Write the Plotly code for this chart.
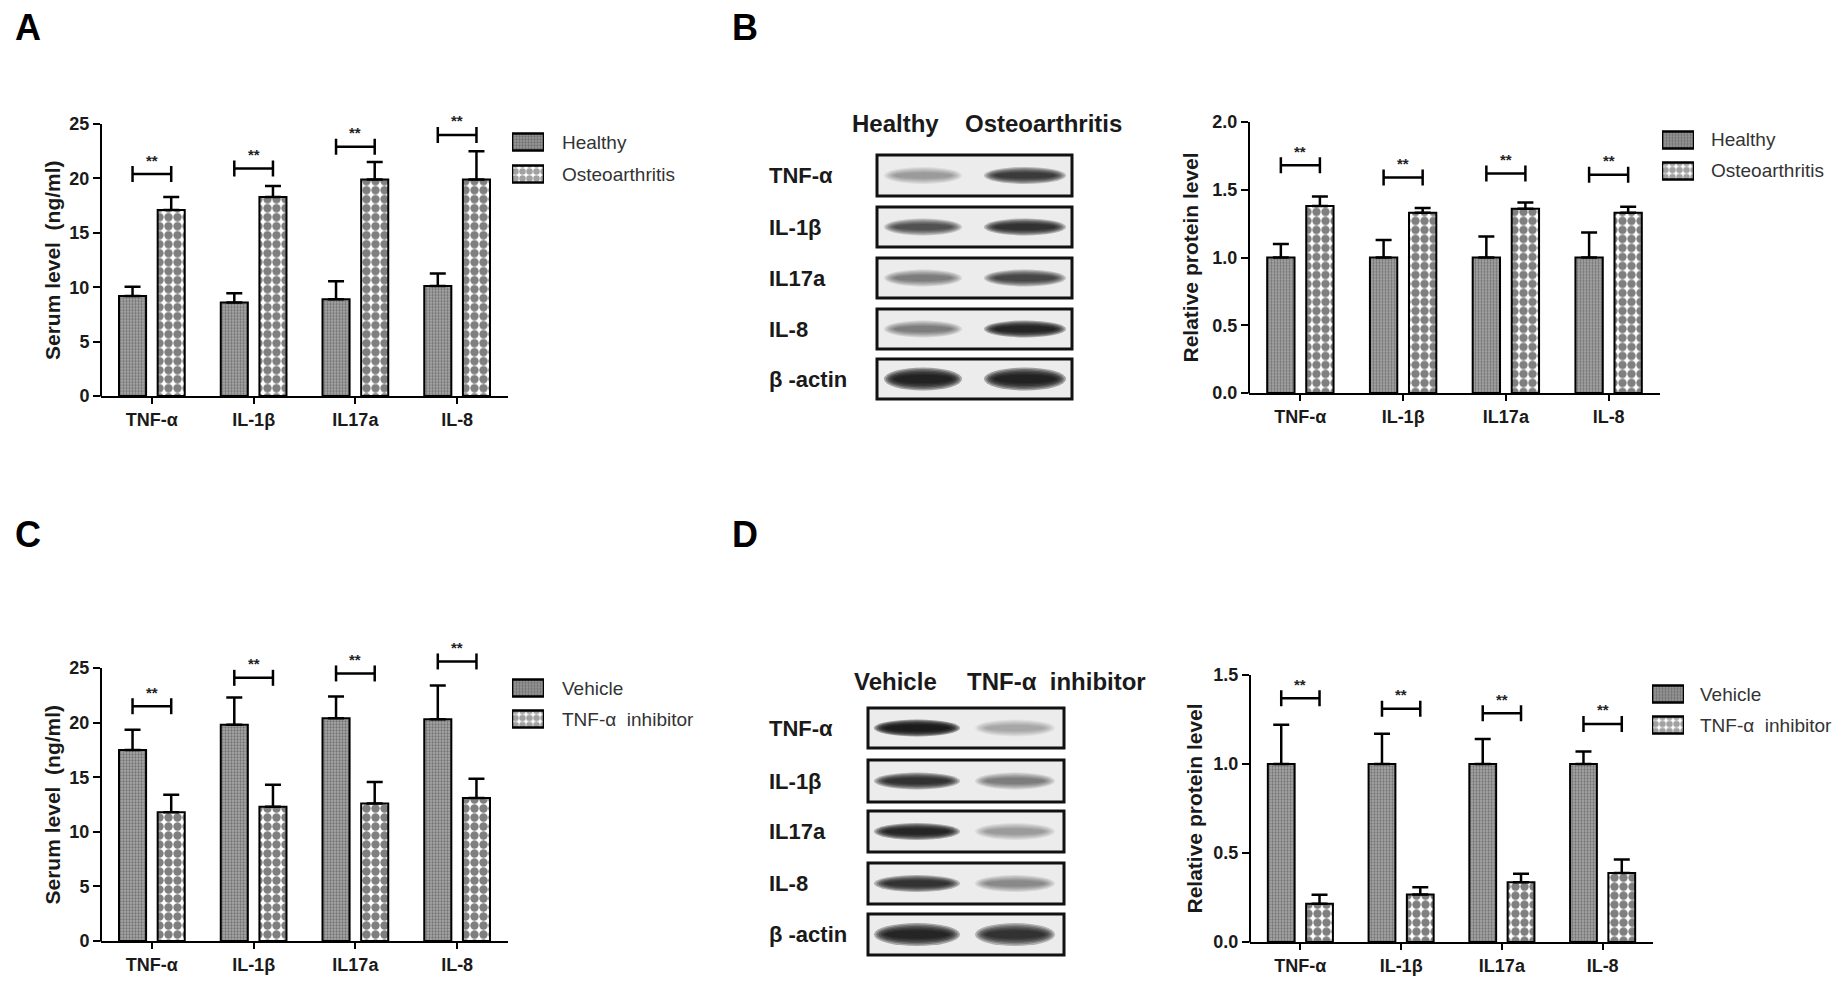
import plotly.graph_objects as go

W, H = 1844, 986
FONT = "Liberation Sans, Arial, sans-serif"

# ---------------- data ----------------
categories = ["TNF-α", "IL-1β", "IL17a", "IL-8"]

# Panel A: serum level (ng/ml)
A_healthy = [9.2, 8.6, 8.9, 10.1]
A_healthy_err = [0.85, 0.85, 1.65, 1.15]
A_osteo = [17.1, 18.3, 19.9, 19.9]
A_osteo_err = [1.2, 1.0, 1.6, 2.6]
A_brackets = [20.4, 20.9, 22.9, 24.0]

# Panel B: relative protein level
B_healthy = [1.0, 1.0, 1.0, 1.0]
B_healthy_err = [0.10, 0.13, 0.155, 0.185]
B_osteo = [1.38, 1.33, 1.36, 1.33]
B_osteo_err = [0.07, 0.035, 0.045, 0.045]
B_brackets = [1.68, 1.59, 1.62, 1.61]

# Panel C: serum level (ng/ml)
C_vehicle = [17.5, 19.8, 20.4, 20.3]
C_vehicle_err = [1.85, 2.5, 2.0, 3.1]
C_inhib = [11.8, 12.3, 12.6, 13.1]
C_inhib_err = [1.6, 2.0, 1.95, 1.75]
C_brackets = [21.5, 24.1, 24.5, 25.6]

# Panel D: relative protein level
D_vehicle = [1.0, 1.0, 1.0, 1.0]
D_vehicle_err = [0.22, 0.17, 0.14, 0.07]
D_inhib = [0.215, 0.267, 0.336, 0.387]
D_inhib_err = [0.05, 0.04, 0.047, 0.076]
D_brackets = [1.37, 1.31, 1.285, 1.225]

# Western blot rows and estimated band darkness (0..1)
blot_rows = ["TNF-α", "IL-1β", "IL17a", "IL-8", "β -actin"]
B_lanes = ["Healthy", "Osteoarthritis"]
B_band_intensity = [[0.35, 0.80], [0.70, 0.85], [0.50, 0.75], [0.50, 0.90], [0.92, 0.92]]
D_lanes = ["Vehicle", "TNF-α  inhibitor"]
D_band_intensity = [[0.95, 0.30], [0.85, 0.50], [0.90, 0.35], [0.85, 0.45], [0.90, 0.85]]

# ---------------- helpers ----------------
def xdom(px0, px1):
    return [px0 / W, px1 / W]

def ydom(px_zero, px_top, top, ext):
    y0 = 1 - px_zero / H
    yt = 1 - px_top / H
    return [y0, y0 + (yt - y0) * ext / top]

GREY_PAT = dict(shape=".", fgcolor="#3c3c3c", bgcolor="#a8a8a8", size=3, solidity=0.45)
CHECK_PAT = dict(shape=".", fgcolor="black", bgcolor="white", size=9, solidity=0.68)

panels = [
    dict(ax="", s1=("Healthy", A_healthy, A_healthy_err), s2=("Osteoarthritis", A_osteo, A_osteo_err),
         br=A_brackets, xpx=(101, 508), ypx=(396, 124), top=25, ext=27.6, dtick=5, fmt="d",
         title="Serum level  (ng/ml)", title_x=52,
         leg=dict(ax="5", box=(512, 544), rows=(142, 174), text_x=560)),
    dict(ax="2", s1=("Healthy", B_healthy, B_healthy_err), s2=("Osteoarthritis", B_osteo, B_osteo_err),
         br=B_brackets, xpx=(1249, 1660), ypx=(393, 122), top=2.0, ext=2.1, dtick=0.5, fmt=".1f",
         title="Relative protein level", title_x=1190,
         leg=dict(ax="6", box=(1662, 1694), rows=(140, 171), text_x=1709)),
    dict(ax="3", s1=("Vehicle", C_vehicle, C_vehicle_err), s2=("TNF-α  inhibitor", C_inhib, C_inhib_err),
         br=C_brackets, xpx=(101, 508), ypx=(941, 668), top=25, ext=28.2, dtick=5, fmt="d",
         title="Serum level  (ng/ml)", title_x=52,
         leg=dict(ax="7", box=(512, 544), rows=(688, 719), text_x=560)),
    dict(ax="4", s1=("Vehicle", D_vehicle, D_vehicle_err), s2=("TNF-α  inhibitor", D_inhib, D_inhib_err),
         br=D_brackets, xpx=(1250, 1653), ypx=(942, 675), top=1.5, ext=1.6, dtick=0.5, fmt=".1f",
         title="Relative protein level", title_x=1194,
         leg=dict(ax="8", box=(1652, 1684), rows=(694, 725), text_x=1698)),
]

BARGAP = 0.24
BARGROUPGAP = 0.30
offset = (1 - BARGAP) / 4.0

fig = go.Figure()
shapes = []
annotations = []
xs = list(range(len(categories)))

def ann_paper(x, y, text, size, weight="bold", xanchor="center", angle=0, color="#1a1a1a"):
    annotations.append(dict(x=x / W, y=1 - y / H, xref="paper", yref="paper", text=text,
                            xanchor=xanchor, yanchor="middle", showarrow=False, textangle=angle,
                            font=dict(family=FONT, size=size, color=color, weight=weight)))

for p in panels:
    xa = "x" + p["ax"]
    ya = "y" + p["ax"]
    for k, (name, vals, errs) in enumerate([p["s1"], p["s2"]]):
        fig.add_trace(go.Bar(
            x=xs, y=vals, name=name, xaxis=xa, yaxis=ya, showlegend=False,
            marker=dict(color="#999" if k == 0 else "white", line=dict(color="black", width=2),
                        pattern=GREY_PAT if k == 0 else CHECK_PAT),
            error_y=dict(type="data", symmetric=False, array=errs, arrayminus=[0] * len(errs),
                         color="black", thickness=2.5, width=8),
        ))
    # significance brackets
    hpx = 8.0
    h = hpx * p["top"] / (p["ypx"][0] - p["ypx"][1])
    bx, by = [], []
    for i, b in enumerate(p["br"]):
        l, r = i - offset, i + offset
        bx += [l, l, None, l, r, None, r, r, None]
        by += [b - h, b + h, None, b, b, None, b - h, b + h, None]
        annotations.append(dict(x=i, y=b, xref=xa, yref=ya, text="**", showarrow=False,
                                xanchor="center", yanchor="middle", yshift=14,
                                font=dict(family=FONT, size=15, color="#222", weight="bold")))
    fig.add_trace(go.Scatter(x=bx, y=by, mode="lines", xaxis=xa, yaxis=ya, showlegend=False,
                             line=dict(color="black", width=2.5), hoverinfo="skip"))

    xd = xdom(*p["xpx"])
    yd = ydom(p["ypx"][0], p["ypx"][1], p["top"], p["ext"])
    axis_font = dict(family=FONT, size=18, color="#1a1a1a", weight="bold")
    nt = int(round(p["top"] / p["dtick"]))
    tickvals = [p["dtick"] * j for j in range(nt + 1)]
    fig.update_layout(**{
        "xaxis" + p["ax"]: dict(domain=xd, anchor=ya, range=[-0.5, len(categories) - 0.5], tickvals=xs,
                                ticktext=categories, showline=True, linecolor="black", linewidth=2,
                                ticks="outside", ticklen=6, tickwidth=2, tickcolor="black", showgrid=False,
                                zeroline=False, tickfont=axis_font, automargin=False, fixedrange=True),
        "yaxis" + p["ax"]: dict(domain=yd, anchor=xa, range=[0, p["ext"]], tickvals=tickvals,
                                tickformat=p["fmt"], showline=False, ticks="outside", ticklen=7, tickwidth=2,
                                tickcolor="black", showgrid=False, zeroline=False, tickfont=axis_font,
                                automargin=False, fixedrange=True),
    })
    # y axis line from 0 to top value
    y0p = 1 - p["ypx"][0] / H
    ytp = 1 - p["ypx"][1] / H
    shapes.append(dict(type="line", xref="paper", yref="paper", x0=xd[0], x1=xd[0], y0=y0p - 0.0005, y1=ytp,
                       line=dict(color="black", width=2)))
    ann_paper(p["title_x"], (p["ypx"][0] + p["ypx"][1]) / 2, p["title"], 21, angle=-90)

    # legend keys (mini bar axes) and legend labels
    lg = p["leg"]
    lxa, lya = "x" + lg["ax"], "y" + lg["ax"]
    c1, c2 = lg["rows"]
    d = c2 - c1
    names = [p["s1"][0], p["s2"][0]]
    fig.add_trace(go.Bar(
        x=[1, 1], y=[0, 1], orientation="h", xaxis=lxa, yaxis=lya, showlegend=False,
        width=[17.0 / d, 17.0 / d], hoverinfo="skip",
        marker=dict(color=["#999", "white"], line=dict(color="black", width=2.5),
                    pattern=dict(shape=[".", "."], fgcolor=[GREY_PAT["fgcolor"], "black"],
                                 bgcolor=[GREY_PAT["bgcolor"], "white"], size=[3, 7], solidity=[0.45, 0.68])),
    ))
    fig.update_layout(**{
        "xaxis" + lg["ax"]: dict(domain=xdom(*lg["box"]), anchor=lya, range=[0, 1], visible=False, fixedrange=True),
        "yaxis" + lg["ax"]: dict(domain=[1 - (c2 + d / 2) / H, 1 - (c1 - d / 2) / H], anchor=lxa,
                                 range=[1.5, -0.5], visible=False, fixedrange=True),
    })
    for nm, cy in zip(names, lg["rows"]):
        ann_paper(lg["text_x"], cy, nm, 19, weight="normal", xanchor="left", color="#333")

# ---------------- western blots ----------------
def draw_blot(box_x, rows_px, lane_cx, lane_w, intensities, label_x, row_names, header_y, header_x, headers):
    for r, (ya, yb) in enumerate(rows_px):
        shapes.append(dict(type="rect", xref="paper", yref="paper",
                           x0=box_x[0] / W, x1=box_x[1] / W, y0=1 - yb / H, y1=1 - ya / H,
                           fillcolor="#ececec", line=dict(color="#111", width=3), layer="below"))
        yc = (ya + yb) / 2
        bh = 17 if r < 4 else 23
        for lane in range(2):
            inten = intensities[r][lane]
            n = 6
            a = 1 - (1 - inten) ** (1.0 / n)
            for k in range(n):
                s = 1 - k * 0.13
                hw = lane_w[lane] / 2 * (0.6 + 0.4 * s)
                hh = bh / 2 * s
                cx = lane_cx[lane]
                shapes.append(dict(type="circle", xref="paper", yref="paper",
                                   x0=(cx - hw) / W, x1=(cx + hw) / W,
                                   y0=1 - (yc + hh) / H, y1=1 - (yc - hh) / H,
                                   fillcolor="#111111", opacity=a, line=dict(width=0), layer="below"))
        ann_paper(label_x, yc, row_names[r], 22, xanchor="left")
    for hx, txt in zip(header_x, headers):
        ann_paper(hx, header_y, txt, 24, xanchor="left")

draw_blot((877, 1072), [(155, 196), (207, 247), (258, 298), (309, 349), (359, 399)],
          [923, 1025], [78, 82], B_band_intensity, 767, blot_rows, 124, [850, 963], B_lanes)
draw_blot((868, 1064), [(708, 748), (760, 802), (811, 852), (863, 904), (914, 955)],
          [917, 1015], [86, 80], D_band_intensity, 767, blot_rows, 681, [852, 965], D_lanes)

# panel letters
for letter, (lx, ly) in zip(["A", "B", "C", "D"], [(28, 27), (745, 27), (28, 534), (745, 534)]):
    ann_paper(lx, ly, letter, 36, color="black")

fig.update_layout(
    width=W, height=H, margin=dict(l=0, r=0, t=0, b=0),
    paper_bgcolor="white", plot_bgcolor="rgba(0,0,0,0)",
    barmode="group", bargap=BARGAP, bargroupgap=BARGROUPGAP,
    shapes=shapes, annotations=annotations, showlegend=False,
    font=dict(family=FONT),
)

fig.write_html("out.html", include_plotlyjs=True, config={"displayModeBar": False, "staticPlot": True},
               post_script="document.body.style.margin='0';document.body.style.overflow='hidden';")
